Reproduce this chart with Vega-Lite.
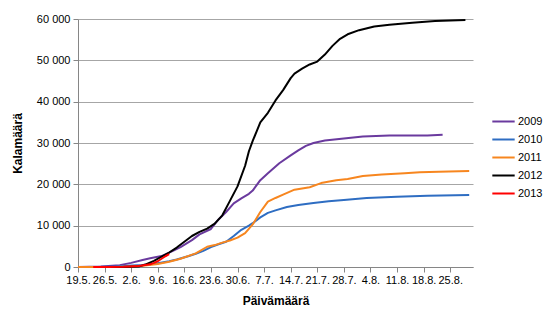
{
  "$schema": "https://vega.github.io/schema/vega-lite/v6.json",
  "width": 395,
  "height": 248,
  "autosize": {"type": "none"},
  "padding": {"left": 78, "top": 19, "right": 77, "bottom": 42},
  "background": "white",
  "config": {
    "view": {"stroke": null},
    "font": "Liberation Sans"
  },
  "data": {
    "values": [
      {"v": "2009", "d": "2001/05/19", "n": 0},
      {"v": "2009", "d": "2001/05/25", "n": 100},
      {"v": "2009", "d": "2001/05/28", "n": 300},
      {"v": "2009", "d": "2001/05/30", "n": 450},
      {"v": "2009", "d": "2001/06/02", "n": 1000},
      {"v": "2009", "d": "2001/06/05", "n": 1700},
      {"v": "2009", "d": "2001/06/07", "n": 2100},
      {"v": "2009", "d": "2001/06/10", "n": 2650},
      {"v": "2009", "d": "2001/06/13", "n": 3900},
      {"v": "2009", "d": "2001/06/15", "n": 4800},
      {"v": "2009", "d": "2001/06/18", "n": 6500},
      {"v": "2009", "d": "2001/06/20", "n": 7900},
      {"v": "2009", "d": "2001/06/23", "n": 9200},
      {"v": "2009", "d": "2001/06/25", "n": 11500},
      {"v": "2009", "d": "2001/06/27", "n": 13300},
      {"v": "2009", "d": "2001/06/29", "n": 15400},
      {"v": "2009", "d": "2001/07/01", "n": 16600},
      {"v": "2009", "d": "2001/07/03", "n": 17700},
      {"v": "2009", "d": "2001/07/04", "n": 18500},
      {"v": "2009", "d": "2001/07/06", "n": 21000},
      {"v": "2009", "d": "2001/07/08", "n": 22700},
      {"v": "2009", "d": "2001/07/11", "n": 25100},
      {"v": "2009", "d": "2001/07/14", "n": 27000},
      {"v": "2009", "d": "2001/07/16", "n": 28200},
      {"v": "2009", "d": "2001/07/18", "n": 29300},
      {"v": "2009", "d": "2001/07/20", "n": 30000},
      {"v": "2009", "d": "2001/07/23", "n": 30600},
      {"v": "2009", "d": "2001/07/28", "n": 31100},
      {"v": "2009", "d": "2001/08/02", "n": 31600},
      {"v": "2009", "d": "2001/08/09", "n": 31800},
      {"v": "2009", "d": "2001/08/19", "n": 31800},
      {"v": "2009", "d": "2001/08/23", "n": 32000},

      {"v": "2010", "d": "2001/05/24", "n": 0},
      {"v": "2010", "d": "2001/05/29", "n": 100},
      {"v": "2010", "d": "2001/06/01", "n": 300},
      {"v": "2010", "d": "2001/06/05", "n": 500},
      {"v": "2010", "d": "2001/06/09", "n": 900},
      {"v": "2010", "d": "2001/06/12", "n": 1400},
      {"v": "2010", "d": "2001/06/14", "n": 1800},
      {"v": "2010", "d": "2001/06/17", "n": 2600},
      {"v": "2010", "d": "2001/06/19", "n": 3200},
      {"v": "2010", "d": "2001/06/21", "n": 3900},
      {"v": "2010", "d": "2001/06/23", "n": 4800},
      {"v": "2010", "d": "2001/06/25", "n": 5500},
      {"v": "2010", "d": "2001/06/27", "n": 6100},
      {"v": "2010", "d": "2001/06/29", "n": 7500},
      {"v": "2010", "d": "2001/07/01", "n": 9000},
      {"v": "2010", "d": "2001/07/03", "n": 10000},
      {"v": "2010", "d": "2001/07/04", "n": 10600},
      {"v": "2010", "d": "2001/07/06", "n": 12000},
      {"v": "2010", "d": "2001/07/08", "n": 13100},
      {"v": "2010", "d": "2001/07/10", "n": 13700},
      {"v": "2010", "d": "2001/07/13", "n": 14500},
      {"v": "2010", "d": "2001/07/16", "n": 15000},
      {"v": "2010", "d": "2001/07/20", "n": 15500},
      {"v": "2010", "d": "2001/07/24", "n": 15900},
      {"v": "2010", "d": "2001/07/28", "n": 16200},
      {"v": "2010", "d": "2001/08/03", "n": 16700},
      {"v": "2010", "d": "2001/08/11", "n": 17000},
      {"v": "2010", "d": "2001/08/19", "n": 17250},
      {"v": "2010", "d": "2001/08/30", "n": 17400},

      {"v": "2011", "d": "2001/05/19", "n": 0},
      {"v": "2011", "d": "2001/05/29", "n": 0},
      {"v": "2011", "d": "2001/06/02", "n": 100},
      {"v": "2011", "d": "2001/06/05", "n": 300},
      {"v": "2011", "d": "2001/06/09", "n": 750},
      {"v": "2011", "d": "2001/06/12", "n": 1250},
      {"v": "2011", "d": "2001/06/15", "n": 2000},
      {"v": "2011", "d": "2001/06/19", "n": 3300},
      {"v": "2011", "d": "2001/06/22", "n": 4900},
      {"v": "2011", "d": "2001/06/24", "n": 5300},
      {"v": "2011", "d": "2001/06/26", "n": 5900},
      {"v": "2011", "d": "2001/06/28", "n": 6400},
      {"v": "2011", "d": "2001/06/30", "n": 7100},
      {"v": "2011", "d": "2001/07/02", "n": 8200},
      {"v": "2011", "d": "2001/07/04", "n": 10300},
      {"v": "2011", "d": "2001/07/06", "n": 13300},
      {"v": "2011", "d": "2001/07/08", "n": 15800},
      {"v": "2011", "d": "2001/07/10", "n": 16700},
      {"v": "2011", "d": "2001/07/12", "n": 17500},
      {"v": "2011", "d": "2001/07/15", "n": 18700},
      {"v": "2011", "d": "2001/07/19", "n": 19300},
      {"v": "2011", "d": "2001/07/22", "n": 20300},
      {"v": "2011", "d": "2001/07/26", "n": 21000},
      {"v": "2011", "d": "2001/07/29", "n": 21300},
      {"v": "2011", "d": "2001/08/02", "n": 22000},
      {"v": "2011", "d": "2001/08/07", "n": 22400},
      {"v": "2011", "d": "2001/08/13", "n": 22700},
      {"v": "2011", "d": "2001/08/17", "n": 22950},
      {"v": "2011", "d": "2001/08/22", "n": 23050},
      {"v": "2011", "d": "2001/08/30", "n": 23200},

      {"v": "2012", "d": "2001/05/25", "n": 0},
      {"v": "2012", "d": "2001/05/31", "n": 0},
      {"v": "2012", "d": "2001/06/04", "n": 100},
      {"v": "2012", "d": "2001/06/06", "n": 700},
      {"v": "2012", "d": "2001/06/08", "n": 1500},
      {"v": "2012", "d": "2001/06/10", "n": 2500},
      {"v": "2012", "d": "2001/06/12", "n": 3500},
      {"v": "2012", "d": "2001/06/14", "n": 4700},
      {"v": "2012", "d": "2001/06/16", "n": 6100},
      {"v": "2012", "d": "2001/06/18", "n": 7500},
      {"v": "2012", "d": "2001/06/20", "n": 8500},
      {"v": "2012", "d": "2001/06/22", "n": 9300},
      {"v": "2012", "d": "2001/06/24", "n": 10500},
      {"v": "2012", "d": "2001/06/26", "n": 12500},
      {"v": "2012", "d": "2001/06/28", "n": 16000},
      {"v": "2012", "d": "2001/06/30", "n": 19500},
      {"v": "2012", "d": "2001/07/02", "n": 24500},
      {"v": "2012", "d": "2001/07/03", "n": 28000},
      {"v": "2012", "d": "2001/07/04", "n": 30500},
      {"v": "2012", "d": "2001/07/06", "n": 35000},
      {"v": "2012", "d": "2001/07/08", "n": 37300},
      {"v": "2012", "d": "2001/07/10", "n": 40300},
      {"v": "2012", "d": "2001/07/12", "n": 42800},
      {"v": "2012", "d": "2001/07/14", "n": 45700},
      {"v": "2012", "d": "2001/07/15", "n": 46800},
      {"v": "2012", "d": "2001/07/17", "n": 48000},
      {"v": "2012", "d": "2001/07/19", "n": 49000},
      {"v": "2012", "d": "2001/07/21", "n": 49700},
      {"v": "2012", "d": "2001/07/23", "n": 51400},
      {"v": "2012", "d": "2001/07/25", "n": 53500},
      {"v": "2012", "d": "2001/07/27", "n": 55200},
      {"v": "2012", "d": "2001/07/29", "n": 56300},
      {"v": "2012", "d": "2001/08/01", "n": 57300},
      {"v": "2012", "d": "2001/08/05", "n": 58200},
      {"v": "2012", "d": "2001/08/09", "n": 58600},
      {"v": "2012", "d": "2001/08/15", "n": 59100},
      {"v": "2012", "d": "2001/08/21", "n": 59500},
      {"v": "2012", "d": "2001/08/29", "n": 59750},

      {"v": "2013", "d": "2001/05/23", "n": 0},
      {"v": "2013", "d": "2001/05/27", "n": 0},
      {"v": "2013", "d": "2001/05/31", "n": 50},
      {"v": "2013", "d": "2001/06/04", "n": 250},
      {"v": "2013", "d": "2001/06/07", "n": 650},
      {"v": "2013", "d": "2001/06/08", "n": 1000},
      {"v": "2013", "d": "2001/06/09", "n": 1400},
      {"v": "2013", "d": "2001/06/10", "n": 2000},
      {"v": "2013", "d": "2001/06/11", "n": 2600},
      {"v": "2013", "d": "2001/06/12", "n": 3100}
    ]
  },
  "mark": {"type": "line", "strokeJoin": "round", "strokeCap": "butt"},
  "encoding": {
    "x": {
      "field": "d",
      "type": "temporal",
      "scale": {"domain": [{"year": 2001, "month": 5, "date": 19}, {"year": 2001, "month": 8, "date": 31}], "nice": false},
      "axis": {
        "title": "Päivämäärä",
        "titleFont": "Liberation Sans",
        "titleFontSize": 12,
        "titleFontWeight": "bold",
        "titleColor": "#000000",
        "titlePadding": 10,
        "format": "%-d.%-m.",
        "values": [
          {"year": 2001, "month": 5, "date": 19},
          {"year": 2001, "month": 5, "date": 26},
          {"year": 2001, "month": 6, "date": 2},
          {"year": 2001, "month": 6, "date": 9},
          {"year": 2001, "month": 6, "date": 16},
          {"year": 2001, "month": 6, "date": 23},
          {"year": 2001, "month": 6, "date": 30},
          {"year": 2001, "month": 7, "date": 7},
          {"year": 2001, "month": 7, "date": 14},
          {"year": 2001, "month": 7, "date": 21},
          {"year": 2001, "month": 7, "date": 28},
          {"year": 2001, "month": 8, "date": 4},
          {"year": 2001, "month": 8, "date": 11},
          {"year": 2001, "month": 8, "date": 18},
          {"year": 2001, "month": 8, "date": 25}
        ],
        "labelOverlap": false,
        "labelFont": "Liberation Sans",
        "labelFontSize": 11,
        "labelColor": "#000000",
        "labelPadding": 2,
        "labelFlush": false,
        "grid": false,
        "domainColor": "#868686",
        "tickColor": "#868686",
        "tickSize": 5,
        "domainWidth": 1
      }
    },
    "y": {
      "field": "n",
      "type": "quantitative",
      "scale": {"domain": [0, 60000], "nice": false},
      "axis": {
        "title": "Kalamäärä",
        "titleFont": "Liberation Sans",
        "titleFontSize": 12,
        "titleFontWeight": "bold",
        "titleColor": "#000000",
        "titlePadding": 12,
        "values": [0, 10000, 20000, 30000, 40000, 50000, 60000],
        "labelExpr": "replace(format(datum.value, ','), ',', ' ')",
        "labelFont": "Liberation Sans",
        "labelFontSize": 11,
        "labelColor": "#000000",
        "labelPadding": 3,
        "grid": true,
        "gridColor": "#A6A6A6",
        "gridWidth": 1,
        "domainColor": "#868686",
        "tickColor": "#868686",
        "tickSize": 5
      }
    },
    "color": {
      "field": "v",
      "type": "nominal",
      "scale": {
        "domain": ["2009", "2010", "2011", "2012", "2013"],
        "range": ["#6A3A9E", "#2E6DC2", "#F7861F", "#000000", "#FF0000"]
      },
      "legend": {
        "title": null,
        "orient": "none",
        "legendX": 413,
        "legendY": 90,
        "symbolType": "stroke",
        "symbolSize": 500,
        "labelFont": "Liberation Sans",
        "labelFontSize": 11,
        "labelColor": "#000000",
        "labelOffset": 2,
        "rowPadding": -3
      }
    },
    "strokeWidth": {
      "field": "v",
      "type": "nominal",
      "scale": {
        "domain": ["2009", "2010", "2011", "2012", "2013"],
        "range": [2, 2, 2, 2, 4]
      },
      "legend": {
        "title": null,
        "orient": "none",
        "legendX": 413,
        "legendY": 90,
        "symbolType": "stroke",
        "symbolSize": 500,
        "labelFont": "Liberation Sans",
        "labelFontSize": 11,
        "labelColor": "#000000",
        "labelOffset": 2,
        "rowPadding": -3
      }
    }
  }
}
